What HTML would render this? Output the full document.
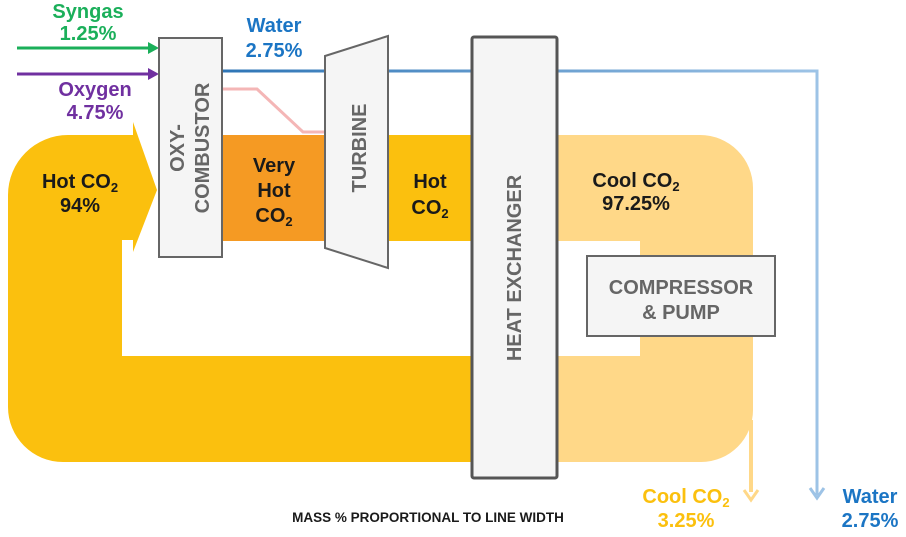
<!DOCTYPE html>
<html><head><style>
body{margin:0;background:#fff;width:906px;height:532px;overflow:hidden}
svg text{font-family:"Liberation Sans",sans-serif;font-weight:bold}
</style></head><body>
<svg width="906" height="532" viewBox="0 0 906 532">
<defs>
<linearGradient id="wg" x1="0" x2="1"><stop offset="0" stop-color="#2E75B6"/><stop offset="1" stop-color="#9DC3E6"/></linearGradient>
</defs>
<path d="M540 135 H700 A53 53 0 0 1 753 188 V410 A52 52 0 0 1 701 462 H540 V356 H640 V241 H540 Z" fill="#FFD888"/>
<rect x="749" y="420" width="4" height="72" fill="#FFD888"/>
<path d="M744 490 L751 500 L758 490" fill="none" stroke="#FFD888" stroke-width="3"/>
<path d="M480 356 H122 V240 H133 V252 L157 190 L133 122 V135 H68 A60 60 0 0 0 8 195 V407 A55 55 0 0 0 63 462 H480 Z" fill="#FBC00E"/>
<rect x="380" y="135" width="100" height="106" fill="#FBC00E"/>
<rect x="222" y="135" width="106" height="106" fill="#F59A23"/>
<path d="M222 71 H817 V495" fill="none" stroke="url(#wg)" stroke-width="3"/>
<path d="M810 488 L817 498 L824 488" fill="none" stroke="#9DC3E6" stroke-width="3"/>
<path d="M222 89 H257 L303 132 H326" fill="none" stroke="#F4B6B6" stroke-width="3"/>
<line x1="17" y1="48" x2="150" y2="48" stroke="#1BAF5A" stroke-width="3"/>
<path d="M148 42 L159 48 L148 54 Z" fill="#1BAF5A"/>
<line x1="17" y1="74" x2="150" y2="74" stroke="#7030A0" stroke-width="3"/>
<path d="M148 68 L159 74 L148 80 Z" fill="#7030A0"/>
<rect x="159" y="38" width="63" height="219" fill="#F5F5F5" stroke="#666" stroke-width="2"/>
<polygon points="325,56 388,36 388,268 325,248" fill="#F5F5F5" stroke="#666" stroke-width="2"/>
<rect x="472" y="37" width="85" height="441" fill="#F5F5F5" stroke="#555" stroke-width="3" rx="2"/>
<rect x="587" y="256" width="188" height="80" fill="#F5F5F5" stroke="#666" stroke-width="2"/>
<g font-size="20" fill="#666" text-anchor="middle">
<text transform="translate(184,148) rotate(-90)">OXY-</text>
<text transform="translate(209,148) rotate(-90)">COMBUSTOR</text>
<text transform="translate(366,148) rotate(-90)">TURBINE</text>
<text transform="translate(521,268) rotate(-90)">HEAT EXCHANGER</text>
<text x="681" y="294">COMPRESSOR</text>
<text x="681" y="319">&amp; PUMP</text>
</g>
<g font-size="20" text-anchor="middle" fill="#1a1a1a">
<text x="80" y="188">Hot CO<tspan font-size="13" dy="4">2</tspan></text>
<text x="80" y="212">94%</text>
<text x="274" y="172">Very</text>
<text x="274" y="197">Hot</text>
<text x="274" y="222">CO<tspan font-size="13" dy="4">2</tspan></text>
<text x="430" y="188">Hot</text>
<text x="430" y="214">CO<tspan font-size="13" dy="4">2</tspan></text>
<text x="636" y="187">Cool CO<tspan font-size="13" dy="4">2</tspan></text>
<text x="636" y="210">97.25%</text>
</g>
<g font-size="20" text-anchor="middle">
<text x="88" y="18" fill="#1BAF5A">Syngas</text>
<text x="88" y="40" fill="#1BAF5A">1.25%</text>
<text x="95" y="96" fill="#7030A0">Oxygen</text>
<text x="95" y="119" fill="#7030A0">4.75%</text>
<text x="274" y="32" fill="#1B75C4">Water</text>
<text x="274" y="57" fill="#1B75C4">2.75%</text>
<text x="686" y="503" fill="#FBC00E">Cool CO<tspan font-size="13" dy="4">2</tspan></text>
<text x="686" y="527" fill="#FBC00E">3.25%</text>
<text x="870" y="503" fill="#1B75C4">Water</text>
<text x="870" y="527" fill="#1B75C4">2.75%</text>
</g>
<text x="428" y="522" font-size="13.5" text-anchor="middle" fill="#1a1a1a">MASS % PROPORTIONAL TO LINE WIDTH</text>
</svg>
</body></html>
